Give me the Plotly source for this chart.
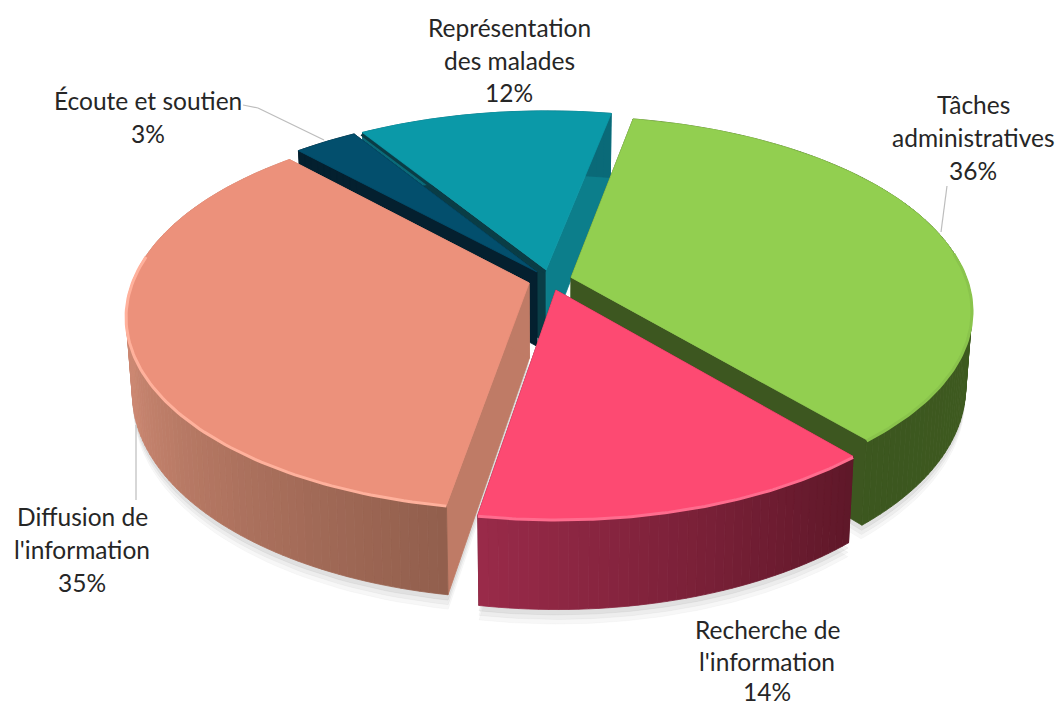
import numpy as np
import plotly.graph_objects as go

# ---- data ----
categories = ["Tâches administratives", "Recherche de l'information", "Diffusion de l'information",
              "Écoute et soutien", "Représentation des malades"]
values = [35.7, 13.9, 35.4, 3, 12]
top_colors = ["#92cf50", "#fd4a72", "#ec917b", "#034f6d", "#0b99a8"]
start_face_colors = ["#3d5720", "#5f1829", "#bf7b66", "#04202f", "#0a3d46"]
end_face_colors = ["#3d5720", "#5f1829", "#bf7b66", "#04202f", "#0c7e8b"]
wall_start_colors = ["#46641f", "#5f1829", "#925f4d", "#04202f", "#0a6a78"]
wall_end_colors = ["#3c5720", "#9a2b4a", "#cc8872", "#04202f", "#0a6a78"]
wall_peak = [1, 1, 0.5, 1, 1]
rim_colors = ["#8ac44c", "#ff6c8e", "#ffb19c", "#034f6d", "#0b99a8"]
draw_order = [4, 3, 0, 2, 1]

# ---- labels (one entry per wrapped line) ----
label_lines = [
    ["Tâches", "administratives", "36%"],
    ["Recherche de", "l'information", "14%"],
    ["Diffusion de", "l'information", "35%"],
    ["Écoute et soutien", "3%"],
    ["Représentation", "des malades", "12%"],
]
label_x = [973, 767, 82, 148, 509]
label_y = [[104, 137, 170], [629, 661, 691], [516, 549, 582], [100, 133], [27, 60, 92]]

# ---- projection constants ----
CX, CY = 550, 280
A, B = 396, 188
K = 0.163
DEPTH = 75
PULL = 0.055
START = 11.0


def project(u, v, z=0.0):
    w = 1 + K * v
    return CX + A * u / w * (1 - 0.015 * z), CY - B * v / w + DEPTH * z / w


def hex2rgb(c):
    return np.array([int(c[i:i + 2], 16) for i in (1, 3, 5)], float)


def mix(c1, c2, t):
    r = hex2rgb(c1) * (1 - t) + hex2rgb(c2) * t
    return "rgb(%d,%d,%d)" % tuple(r)


fig = go.Figure()


def poly(xs, ys, color):
    fig.add_trace(go.Scatter(x=list(xs), y=list(ys), mode="lines", fill="toself", fillcolor=color,
                             line=dict(color=color, width=0.8), hoverinfo="skip", showlegend=False))


total = sum(values)
edges = START + np.concatenate([[0], np.cumsum(values)]) * 360 / total
wedges = []
for i in range(len(values)):
    a0, a1 = np.radians(edges[i]), np.radians(edges[i + 1])
    mid = (a0 + a1) / 2
    wedges.append((a0, a1, PULL * np.sin(mid), PULL * np.cos(mid)))

# soft ground shadow
for z, alpha in [(1.16, 0.03), (1.11, 0.04), (1.06, 0.05)]:
    for i in [0, 1, 2]:
        a0, a1, pu, pv = wedges[i]
        th = np.linspace(a0, a1, 80)
        x, y = project(pu + np.sin(th), pv + np.cos(th), z)
        x0, y0 = project(pu, pv, z)
        poly(np.r_[x0, x, x0], np.r_[y0, y, y0], "rgba(0,0,0,%g)" % alpha)

for i in draw_order:
    a0, a1, pu, pv = wedges[i]
    # radial cut faces
    for ang, col in ((a0, start_face_colors[i]), (a1, end_face_colors[i])):
        pts = [(pu, pv, 0), (pu + np.sin(ang), pv + np.cos(ang), 0),
               (pu + np.sin(ang), pv + np.cos(ang), 1), (pu, pv, 1), (pu, pv, 0)]
        xy = [project(*p) for p in pts]
        poly([p[0] for p in xy], [p[1] for p in xy], col)
    # outer wall as shaded strips
    n = max(6, int(values[i] * 3))
    th = np.linspace(a0, a1, n + 1)
    for j in range(n):
        tt = np.linspace(th[j], th[j + 1], 4)
        x1, y1 = project(pu + np.sin(tt), pv + np.cos(tt), 0)
        x2, y2 = project(pu + np.sin(tt[::-1]), pv + np.cos(tt[::-1]), 1)
        frac = min(1.0, (j + 0.5) / n / wall_peak[i])
        poly(np.r_[x1, x2, x1[0]], np.r_[y1, y2, y1[0]],
             mix(wall_start_colors[i], wall_end_colors[i], frac))
    # top face
    th = np.linspace(a0, a1, 120)
    x, y = project(pu + np.sin(th), pv + np.cos(th), 0)
    x0, y0 = project(pu, pv, 0)
    poly(np.r_[x0, x, x0], np.r_[y0, y, y0], top_colors[i])
    # bevel rim only along the front half of the arc
    front = np.cos(th) < 0.15
    if front.any():
        fig.add_trace(go.Scatter(x=x[front], y=y[front] + 1, mode="lines",
                                 line=dict(color=rim_colors[i], width=3),
                                 hoverinfo="skip", showlegend=False))
    # the next wedge's cut face stays visible as a thin strip along its edge
    if i == 3:
        a0n, _, pun, pvn = wedges[4]
        ex0, ey0 = project(pun, pvn)
        ex1, ey1 = project(pun + np.sin(a0n), pvn + np.cos(a0n))
        fig.add_trace(go.Scatter(x=[ex0 - 1, ex1 - 1], y=[ey0 + 2, ey1 + 2], mode="lines",
                                 line=dict(color=start_face_colors[4], width=3),
                                 hoverinfo="skip", showlegend=False))

for lines, lx, ys in zip(label_lines, label_x, label_y):
    for t, ly in zip(lines, ys):
        fig.add_annotation(x=lx, y=ly, text=t, showarrow=False, xanchor="center", yanchor="middle",
                           font=dict(family="Lato", size=24.5, color="#262626"))

leader = dict(type="line", line=dict(color="#bdbdbd", width=1.2))
fig.add_shape(x0=243, y0=105, x1=258, y1=108, **leader)
fig.add_shape(x0=258, y0=108, x1=324, y1=140, **leader)
fig.add_shape(x0=947, y0=186, x1=941, y1=232, **leader)
fig.add_shape(x0=136, y0=425, x1=136, y1=500, **leader)

fig.update_layout(width=1059, height=705, margin=dict(l=0, r=0, t=0, b=0),
                  paper_bgcolor="white", plot_bgcolor="white", showlegend=False,
                  xaxis=dict(range=[0, 1059], visible=False, fixedrange=True),
                  yaxis=dict(range=[705, 0], visible=False, fixedrange=True))
fig.write_html("out.html", config={"displayModeBar": False},
               post_script="document.body.style.margin='0';document.body.style.overflow='hidden';")
